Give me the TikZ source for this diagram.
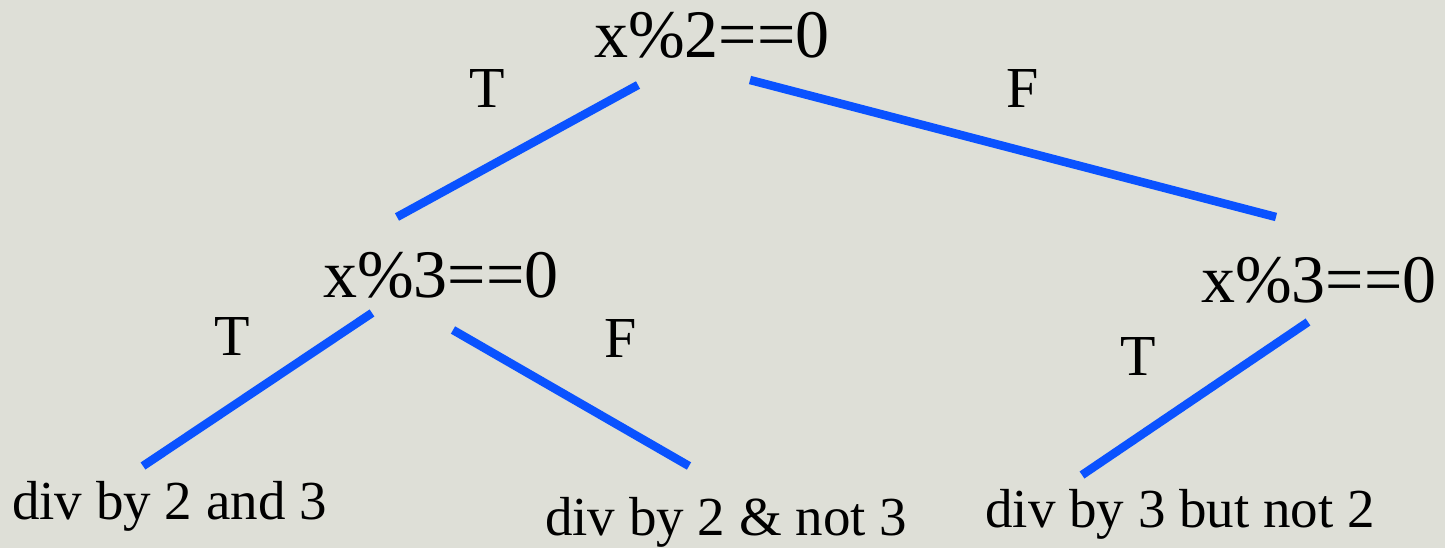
\documentclass[tikz,border=0pt]{standalone}
\usepackage{fontspec}
\setmainfont{Liberation Serif}
\definecolor{slidebg}{RGB}{222,223,215}
\definecolor{edgeblue}{RGB}{10,82,255}
\begin{document}
\begin{tikzpicture}[x=1pt, y=-1pt,
  test/.style={inner sep=0pt, anchor=base, font=\fontsize{68}{74}\selectfont},
  branch/.style={inner sep=0pt, anchor=base, font=\fontsize{58}{64}\selectfont},
  leaf/.style={inner sep=0pt, anchor=base west, font=\fontsize{55}{62}\selectfont},
  edge/.style={line width=8.5pt, edgeblue, line cap=butt}]

% background
\fill[slidebg] (0,0) rectangle (1445,548);
\useasboundingbox (0,0) rectangle (1445,548);

% Level 0
\node[test] (root) at (712,58) {x\%2==0};
\node[branch] (rootT) at (487,108) {T};
\node[branch] (rootF) at (1023,108) {F};
\coordinate (rootL) at (638,85);
\coordinate (rootR) at (750,80);

% Level 1
\node[test] (left) at (441,297) {x\%3==0};
\node[test] (right) at (1319,302) {x\%3==0};
\coordinate (leftTop) at (397,217);
\coordinate (rightTop) at (1276,217);
\draw[edge] (rootL) -- (leftTop);
\draw[edge] (rootR) -- (rightTop);

\node[branch] (leftT) at (232,355) {T};
\node[branch] (leftF) at (621,357) {F};
\node[branch] (rightT) at (1138,375) {T};
\coordinate (leftA) at (372,313);
\coordinate (leftB) at (453,330);
\coordinate (rightA) at (1308,322);

% Level 2 (leaves)
\node[leaf] (both) at (12,519) {div by 2 and 3};
\node[leaf] (twoonly) at (545,535) {div by 2 \& not 3};
\node[leaf] (threeonly) at (985,527) {div by 3 but not 2};
\coordinate (bothTop) at (143,466);
\coordinate (twoonlyTop) at (689,466);
\coordinate (threeonlyTop) at (1082,475);
\draw[edge] (leftA) -- (bothTop);
\draw[edge] (leftB) -- (twoonlyTop);
\draw[edge] (rightA) -- (threeonlyTop);

\end{tikzpicture}
\end{document}
